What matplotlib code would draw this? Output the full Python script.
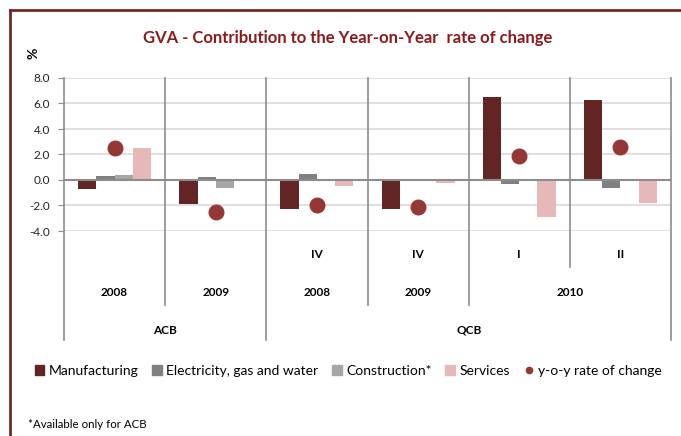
import numpy as np
import matplotlib.pyplot as plt
from matplotlib.lines import Line2D
from matplotlib.patches import Patch

plt.rcParams['font.family'] = ['Lato', 'DejaVu Sans']

# data
quarters = ['', '', 'IV', 'IV', 'I', 'II']
years = ['2008', '2009', '2008', '2009', '2010']
year_spans = [1, 1, 1, 1, 2]
bases = ['ACB', 'QCB']
base_spans = [2, 4]

manufacturing = [-0.7, -1.9, -2.3, -2.3, 6.5, 6.3]
electricity = [0.3, 0.2, 0.5, 0.1, -0.3, -0.6]
construction = [0.4, -0.6, 0.0, 0.0, 0.0, 0.0]
services = [2.5, -0.1, -0.5, -0.2, -2.9, -1.8]
yoy = [2.5, -2.5, -2.0, -2.1, 1.9, 2.6]

series = ['Manufacturing', 'Electricity, gas and water', 'Construction*', 'Services']
colors = ['#632523', '#808080', '#a6a6a6', '#e6b9b8']
dot_color = '#953735'
line_gray = '#8c8c8c'

fig = plt.figure(figsize=(6.81, 4.36), dpi=100)
ax = fig.add_axes([64 / 681, 1 - 231 / 436, (671 - 64) / 681, (231 - 78) / 436])

n = len(manufacturing)
x = np.arange(n) + 0.5
w = 0.18
for i, vals in enumerate([manufacturing, electricity, construction, services]):
    ax.bar(x + (i - 1.5) * w, vals, w, color=colors[i], zorder=3)
ax.scatter(x, yoy, s=110, color=dot_color, zorder=4)

ax.set_xlim(0, n)
ax.set_ylim(-4, 8)
ax.set_yticks(np.arange(-4, 9, 2))
ax.set_yticklabels(['%.1f' % v for v in np.arange(-4, 9, 2)], fontsize=8.5, color='#222222')
ax.tick_params(axis='y', length=4, color=line_gray, pad=6)
ax.set_xticks([])
ax.grid(axis='y', color='#d9d9d9', linewidth=1.2, zorder=0)
for s in ['top', 'right', 'bottom', 'left']:
    ax.spines[s].set_visible(False)
ax.axhline(0, color=line_gray, linewidth=1.5, zorder=3)

# multi-level category axis below the plot
unit = (231 - 78) / 12.0  # pixels per unit
def py(pix):
    return -4 - (pix - 231) / unit

y_q, y_y, y_b = py(255), py(293), py(330)
end_q, end_y, end_b = py(267), py(305), py(340)

for i, q in enumerate(quarters):
    if q:
        ax.text(x[i], y_q, q, ha='center', va='center', fontsize=8.5, fontweight='bold', clip_on=False)

pos = 0
for yr, sp in zip(years, year_spans):
    ax.text(pos + sp / 2, y_y, yr, ha='center', va='center', fontsize=8.5, fontweight='bold', clip_on=False)
    pos += sp
pos = 0
base_edges = [0]
for b, sp in zip(bases, base_spans):
    ax.text(pos + sp / 2, y_b, b, ha='center', va='center', fontsize=8.5, fontweight='bold', clip_on=False)
    pos += sp
    base_edges.append(pos)
year_edges = list(np.cumsum([0] + year_spans))

for xe in range(n + 1):
    if xe in base_edges:
        bottom = end_b
    elif xe in year_edges:
        bottom = end_y
    else:
        bottom = end_q
    ax.plot([xe, xe], [8, bottom], color=line_gray, linewidth=1.2, clip_on=False, zorder=2)

# title and unit label
fig.text(348 / 681, 1 - 38 / 436, 'GVA - Contribution to the Year-on-Year  rate of change',
         ha='center', va='center', fontsize=12, fontweight='bold', color='#8b1a1a')
fig.text(34 / 681, 1 - 53 / 436, '%', ha='center', va='center', fontsize=10,
         fontweight='bold', rotation=90)

# legend
handles = [Patch(color=c, label=l) for c, l in zip(colors, series)]
handles.append(Line2D([], [], marker='o', linestyle='', color=dot_color, markersize=4.5,
                      label='y-o-y rate of change'))
fig.legend(handles=handles, loc='center', bbox_to_anchor=(348 / 681, 1 - 371 / 436), ncol=5,
           frameon=False, fontsize=10, handlelength=0.7, handleheight=0.7,
           handletextpad=0.3, columnspacing=1.0)

fig.text(28 / 681, 1 - 424 / 436, '*Available only for ACB', ha='left', va='center', fontsize=8.3)

# frame (only top and left edges visible)
frame_color = '#6e2a2a'
fig.add_artist(Line2D([10 / 681, 10 / 681], [0, 1 - 10 / 436], color=frame_color, linewidth=2,
                      transform=fig.transFigure))
fig.add_artist(Line2D([10 / 681, 1], [1 - 10 / 436, 1 - 10 / 436], color=frame_color, linewidth=2,
                      transform=fig.transFigure))

fig.savefig('out.png', dpi=100)
